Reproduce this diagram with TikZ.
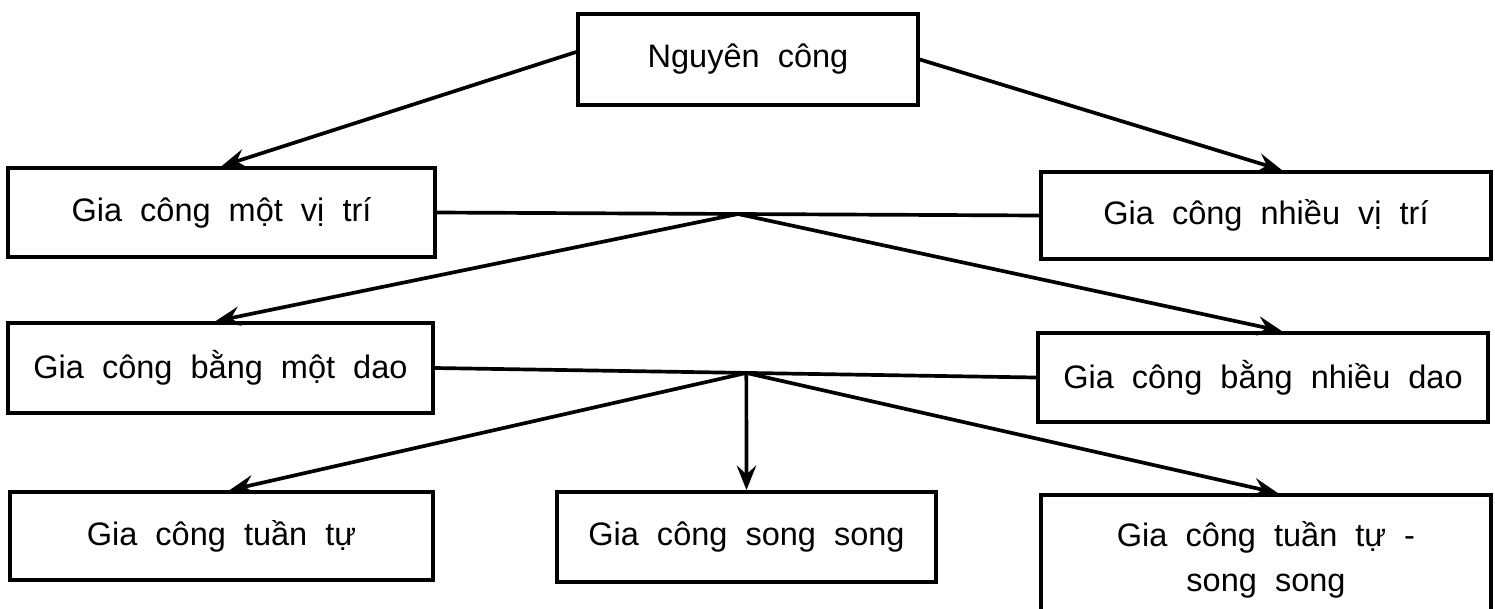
\documentclass[tikz,border=0pt]{standalone}
\usepackage{fontspec}
\setmainfont[WordSpace=2]{Liberation Sans}
\usepackage{tikz}
\usetikzlibrary{arrows.meta,calc}
\tikzset{
    box/.style = {rectangle, draw, line width=2.1pt, align=center, inner sep=2pt,
                  font=\fontsize{18.5}{26}\selectfont},
    arr/.style = {line width=2.1pt, -{Stealth[length=14pt,width=11pt,inset=5pt]}},
    link/.style = {line width=2.1pt},
}

\begin{document}
\begin{tikzpicture}
    \useasboundingbox (0,0) rectangle (29.9,-12.18);
    \node (nc) at (14.96,-1.19) [box, minimum width=6.8cm, minimum height=1.82cm] {Nguyên công};
    \node (mvt) at (4.43,-4.25) [box, minimum width=8.54cm, minimum height=1.78cm] {Gia công một vị trí};
    \node (nvt) at (25.32,-4.31) [box, minimum width=9cm, minimum height=1.74cm] {Gia công nhiều vị trí};
    \node (mdao) at (4.41,-7.36) [box, minimum width=8.5cm, minimum height=1.8cm] {Gia công bằng một dao};
    \node (ndao) at (25.26,-7.55) [box, minimum width=9cm, minimum height=1.78cm] {Gia công bằng nhiều dao};
    \node (tt) at (4.43,-10.72) [box, minimum width=8.46cm, minimum height=1.76cm] {Gia công tuần tự};
    \node (ss) at (14.93,-10.74) [box, minimum width=7.58cm, minimum height=1.8cm] {Gia công song song};
    \node (tts) at (25.32,-11.2) [box, minimum width=9cm, minimum height=2.6cm] {Gia công tuần tự -\\song song};
    \draw[arr] ([yshift=0.15cm]nc.west) -- (mvt.north);
    \draw[arr] (nc.east) -- ([xshift=0.32cm]nvt.north);
    \draw[link] (mvt.east) -- (nvt.west);
    \coordinate (j1) at ($(mvt.east)!0.5!(nvt.west)$);
    \draw[arr] (j1) -- ([xshift=-0.1cm]mdao.north);
    \draw[arr] (j1) -- ([xshift=0.38cm]ndao.north);
    \draw[link] (mdao.east) -- (ndao.west);
    \coordinate (j2) at ($(mdao.east)!0.518!(ndao.west)$);
    \draw[arr] (j2) -- ([xshift=0.16cm]tt.north);
    \draw[arr] (j2) -- (ss.north);
    \draw[arr] (j2) -- ([xshift=0.24cm]tts.north);
\end{tikzpicture}
\end{document}
